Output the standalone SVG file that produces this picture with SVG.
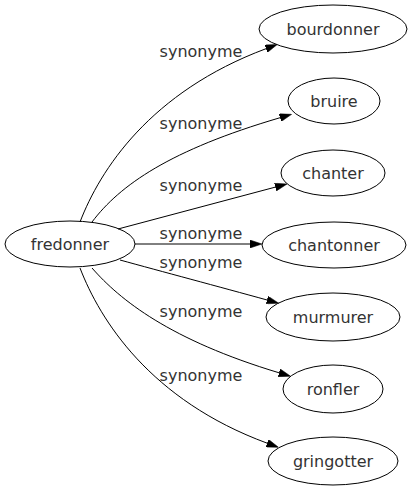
<svg xmlns="http://www.w3.org/2000/svg" width="413" height="491" viewBox="0 0 413 491">
<style>
.node ellipse{fill:none;stroke:#000;stroke-width:1}
.node text{font-family:"DejaVu Sans",sans-serif;font-size:16px;text-anchor:middle;fill:#333}
.edges path{fill:none;stroke:#000;stroke-width:1}
.edges text{font-family:"DejaVu Sans",sans-serif;font-size:16px;text-anchor:middle;fill:#333}
</style>
<defs>
<marker id="arr" viewBox="0 0 12 8" refX="0" refY="4" markerUnits="userSpaceOnUse" markerWidth="12" markerHeight="8" orient="auto">
<path d="M0,0 L12,4 L0,8 z" fill="#000" stroke="#000" stroke-width="0.5"/>
</marker>
</defs>
<rect width="413" height="491" fill="#fff"/>
<g id="edges" class="edges">
<path d="M80,222 C100,170 150,92 266,48.7" marker-end="url(#arr)"/>
<text x="201" y="57">synonyme</text>
<path d="M92,222 C120,185 170,150 280.1,117.7" marker-end="url(#arr)"/>
<text x="201" y="129">synonyme</text>
<path d="M118,229 L275.4,187.1" marker-end="url(#arr)"/>
<text x="201" y="191">synonyme</text>
<path d="M135,244 L250,244" marker-end="url(#arr)"/>
<text x="201" y="239">synonyme</text>
<path d="M120,260 C160,271 220,287 267.1,300" marker-end="url(#arr)"/>
<text x="201" y="268">synonyme</text>
<path d="M92,268 C120,300 170,340 279.1,372.8" marker-end="url(#arr)"/>
<text x="201" y="317">synonyme</text>
<path d="M80,268 C100,320 150,400 267.2,443.2" marker-end="url(#arr)"/>
<text x="201" y="381">synonyme</text>
</g>
<g id="fredonner" class="node"><ellipse cx="70" cy="244" rx="65" ry="23"/><text x="70" y="250">fredonner</text></g>
<g id="bourdonner" class="node"><ellipse cx="333" cy="29" rx="74" ry="24"/><text x="333" y="35">bourdonner</text></g>
<g id="bruire" class="node"><ellipse cx="334" cy="101" rx="46" ry="23"/><text x="334" y="107">bruire</text></g>
<g id="chanter" class="node"><ellipse cx="333" cy="173" rx="52" ry="23"/><text x="333" y="179">chanter</text></g>
<g id="chantonner" class="node"><ellipse cx="334" cy="245" rx="72" ry="23"/><text x="334" y="251">chantonner</text></g>
<g id="murmurer" class="node"><ellipse cx="333" cy="317" rx="67" ry="24"/><text x="333" y="323">murmurer</text></g>
<g id="ronfler" class="node"><ellipse cx="333" cy="389" rx="50" ry="24"/><text x="333" y="395">ronfler</text></g>
<g id="gringotter" class="node"><ellipse cx="333" cy="461" rx="65" ry="24"/><text x="333" y="467">gringotter</text></g>
</svg>
